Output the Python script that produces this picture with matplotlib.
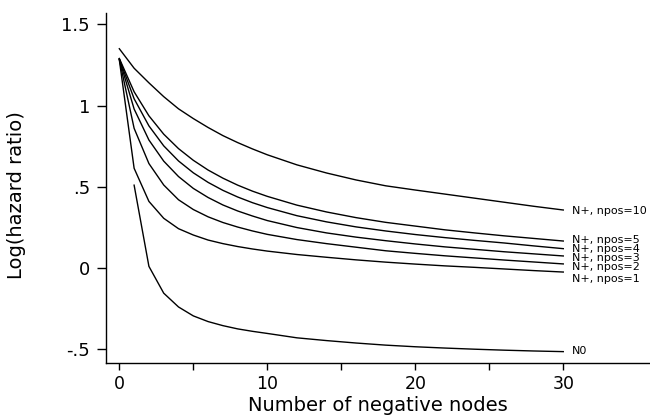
import matplotlib
matplotlib.use("Agg")
import matplotlib.pyplot as plt

# x positions (number of negative nodes)
x_npos = [0, 1, 2, 3, 4, 5, 6, 7, 8, 9, 10, 12, 14, 16, 18, 20, 22, 24, 26, 28, 30]
x_n0 = [1, 2, 3, 4, 5, 6, 7, 8, 9, 10, 12, 14, 16, 18, 20, 22, 24, 26, 28, 30]

npos10 = [1.35, 1.23, 1.14, 1.055, 0.98, 0.92, 0.865, 0.815, 0.772, 0.733, 0.697,
          0.635, 0.585, 0.542, 0.506, 0.48, 0.455, 0.43, 0.405, 0.38, 0.357]
npos5 = [1.29, 1.085, 0.937, 0.824, 0.735, 0.663, 0.603, 0.553, 0.510, 0.473, 0.441,
         0.387, 0.345, 0.310, 0.281, 0.258, 0.235, 0.216, 0.198, 0.182, 0.166]
npos4 = [1.288, 1.042, 0.875, 0.752, 0.659, 0.586, 0.527, 0.478, 0.437, 0.402, 0.372,
         0.322, 0.284, 0.253, 0.228, 0.206, 0.187, 0.170, 0.154, 0.136, 0.119]
npos3 = [1.286, 0.979, 0.788, 0.658, 0.563, 0.490, 0.434, 0.388, 0.351, 0.320, 0.292,
         0.249, 0.216, 0.190, 0.168, 0.148, 0.130, 0.115, 0.100, 0.087, 0.074]
npos2 = [1.284, 0.86, 0.643, 0.511, 0.42, 0.36, 0.315, 0.28, 0.252, 0.228, 0.207,
         0.175, 0.150, 0.128, 0.106, 0.090, 0.075, 0.062, 0.049, 0.037, 0.025]
npos1 = [1.282, 0.614, 0.410, 0.306, 0.242, 0.203, 0.172, 0.150, 0.132, 0.117, 0.104,
         0.083, 0.066, 0.050, 0.036, 0.024, 0.013, 0.004, -0.006, -0.016, -0.025]
n0 = [0.51, 0.01, -0.155, -0.24, -0.295, -0.33, -0.355, -0.375, -0.39, -0.403,
      -0.43, -0.447, -0.462, -0.475, -0.485, -0.493, -0.50, -0.506, -0.511, -0.515]

series_labels = ["N+, npos=10", "N+, npos=5", "N+, npos=4", "N+, npos=3",
                 "N+, npos=2", "N+, npos=1", "N0"]
label_y = [0.35, 0.170, 0.114, 0.060, 0.008, -0.066, -0.509]

yticks = [-0.5, 0, 0.5, 1, 1.5]
yticklabels = ["-.5", "0", ".5", "1", "1.5"]
xticks_major = [0, 10, 20, 30]
xticks_minor = [5, 15, 25]

plt.rcParams['font.family'] = ['DejaVu Sans']

fig = plt.figure(figsize=(6.5, 4.16), dpi=100)
ax = fig.add_axes([106/650, 1 - 363/416, 544/650, 350/416])

for ys in [npos10, npos5, npos4, npos3, npos2, npos1]:
    ax.plot(x_npos, ys, color='black', lw=1.0, solid_joinstyle='miter')
ax.plot(x_n0, n0, color='black', lw=1.0)

for lab, yl in zip(series_labels, label_y):
    ax.text(30.6, yl, lab, ha='left', va='center', fontsize=8.0, color='black')

ax.set_xlim(-0.9, 35.86)
ax.set_ylim(-0.585, 1.57)

ax.spines['top'].set_visible(False)
ax.spines['right'].set_visible(False)
ax.spines['left'].set_linewidth(1.0)
ax.spines['bottom'].set_linewidth(1.0)

ax.set_yticks(yticks)
ax.set_yticklabels(yticklabels)
ax.set_xticks(xticks_major)
ax.set_xticks(xticks_minor, minor=True)
ax.tick_params(axis='y', length=6.5, width=1.0, labelsize=13, pad=5)
ax.tick_params(axis='x', which='both', length=5.3, width=1.0, labelsize=12.5, pad=3.5)

ax.set_xlabel("Number of negative nodes", fontsize=14)
ax.set_ylabel("Log(hazard ratio)", fontsize=14)
ax.xaxis.set_label_coords(0.5, -0.095)
ax.yaxis.set_label_coords(-0.147, 0.48)

fig.savefig("out.png", dpi=100)
